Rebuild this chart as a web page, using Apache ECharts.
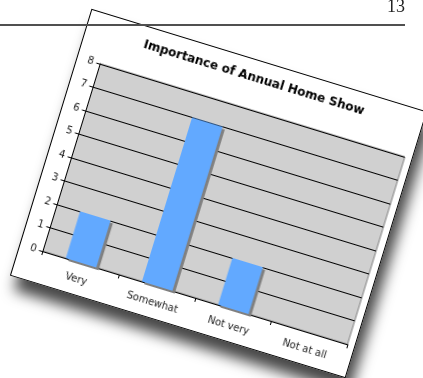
<!DOCTYPE html>
<html>
<head>
<meta charset="utf-8">
<script src="https://cdn.jsdelivr.net/npm/echarts@6/dist/echarts.min.js"></script>
<style>
  html, body { margin: 0; padding: 0; background: #fff; }
  body { width: 423px; height: 378px; position: relative; overflow: hidden; }
  #card {
    position: absolute; left: 42.6px; top: 54.1px;
    width: 351px; height: 279px; box-sizing: border-box;
    background: #fff; border: 1px solid #000;
    transform: rotate(17deg); transform-origin: 50% 50%;
    box-shadow: 8px 13px 14px rgba(0, 0, 0, 0.72);
  }
  #chart { position: absolute; left: -1px; top: -1px; width: 351px; height: 279px; }
  #rule { position: absolute; left: 0; top: 24px; width: 405px; height: 2px; background: #505050; z-index: 2; }
  #folio {
    position: absolute; left: 387px; top: -2.8px; width: 18px; text-align: right;
    font-family: "Liberation Serif", serif; font-size: 18px; line-height: 18px; color: #222; z-index: 2;
  }
</style>
</head>
<body>
<div id="card"><div id="chart"></div></div>
<div id="rule"></div>
<div id="folio">13</div>
<script>
// Survey answers: how important the annual home show is
const categories = ['Very', 'Somewhat', 'Not very', 'Not at all'];
const counts = [2, 7, 2, 0];
const yMin = 0;
const yMax = 8;
const yStep = 1;

const font = 'DejaVu Sans, Verdana, sans-serif';
const chart = echarts.init(document.getElementById('chart'), null, { renderer: 'canvas' });
chart.setOption({
  animation: false,
  title: {
    text: 'Importance of Annual Home Show',
    left: 'center',
    top: 8,
    textStyle: { fontFamily: font, fontWeight: 'bold', fontSize: 12, color: '#000' }
  },
  grid: {
    left: 24.5, right: 8, top: 50, bottom: 33,
    show: true, backgroundColor: '#d0d0d0', borderColor: '#808080', borderWidth: 1
  },
  xAxis: {
    type: 'category',
    data: categories,
    axisLine: { lineStyle: { color: '#000', width: 1 } },
    axisTick: { show: true, length: 4, lineStyle: { color: '#000' } },
    axisLabel: { interval: 0, margin: 12, fontFamily: font, fontSize: 10, color: '#222' }
  },
  yAxis: {
    type: 'value',
    min: yMin, max: yMax, interval: yStep,
    axisLine: { show: true, lineStyle: { color: '#000', width: 1 } },
    axisTick: { show: true, length: 4, lineStyle: { color: '#000' } },
    splitLine: { show: true, lineStyle: { color: '#000', width: 1 } },
    axisLabel: { margin: 7, fontFamily: font, fontSize: 10, color: '#222' }
  },
  series: [{
    type: 'bar',
    data: counts,
    barWidth: '40%',
    itemStyle: {
      color: '#62a9ff',
      shadowColor: '#808080', shadowOffsetX: 3, shadowOffsetY: 2, shadowBlur: 0
    }
  }]
});
</script>
</body>
</html>
